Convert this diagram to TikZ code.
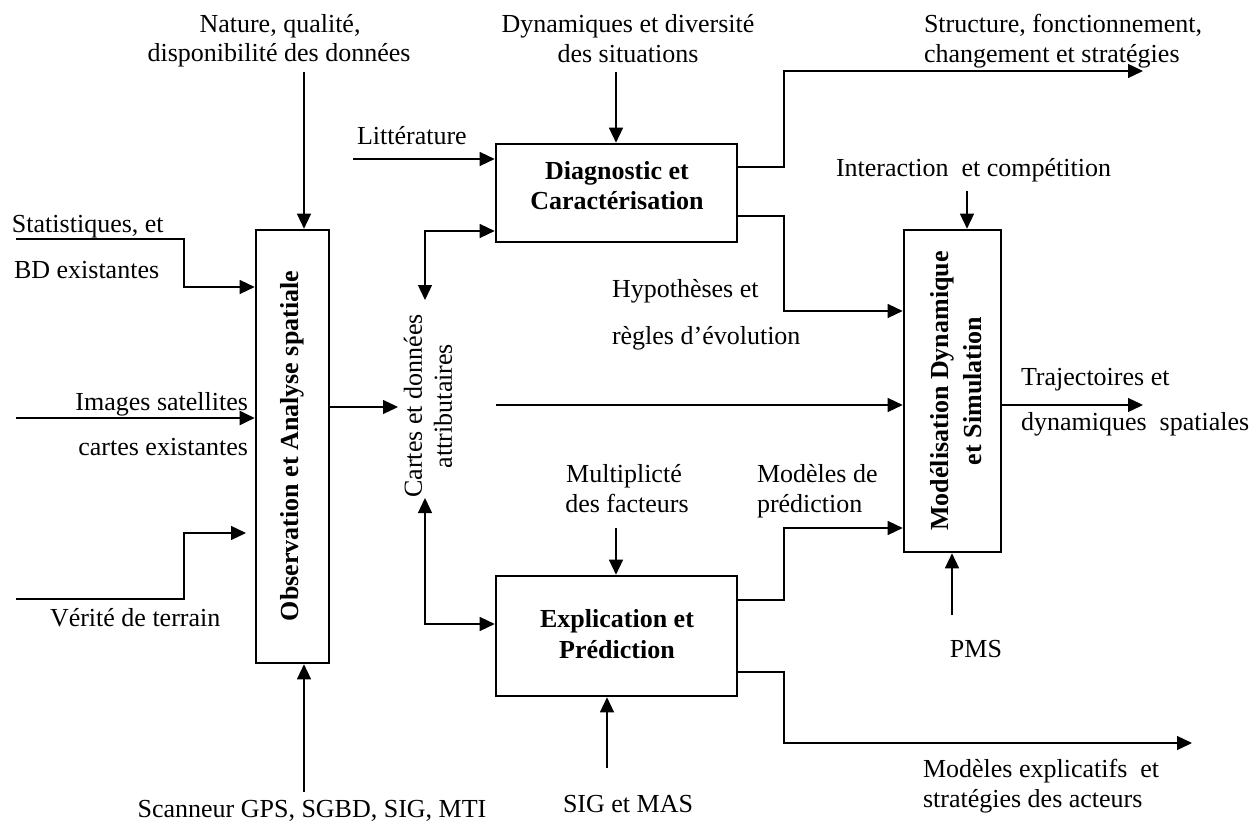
\documentclass[tikz,border=0pt]{standalone}
\usepackage{fontspec}
\setmainfont{Liberation Serif}
\usetikzlibrary{arrows.meta}
\begin{document}
\begin{tikzpicture}[x=1pt,y=-1pt,
  every node/.style={inner sep=0pt, outer sep=0pt},
  boxnode/.style={draw, line width=2.6pt, inner sep=0pt, outer sep=1.3pt},
  lbl/.style={anchor=base, font=\fontsize{26}{30}\selectfont},
  lbll/.style={anchor=base west, font=\fontsize{26}{30}\selectfont},
  lblr/.style={anchor=base east, font=\fontsize{26}{30}\selectfont},
  btxt/.style={anchor=base, font=\fontsize{26}{30}\selectfont\bfseries},
  conn/.style={line width=1.3pt, -{Triangle[length=15pt,width=14pt]}},
  connthick/.style={conn, line width=2pt},
  bothconn/.style={line width=1.3pt, {Triangle[length=15pt,width=14pt]}-{Triangle[length=15pt,width=14pt]}}]
\useasboundingbox (0,0) rectangle (1256,829);

% boxes
\node[boxnode, minimum width=73pt, minimum height=433pt] (obs) at (292.5,446.5) {};
\node[rotate=90, font=\fontsize{26}{30}\selectfont\bfseries] (obstxt) at (292.5,446) {Observation et Analyse spatiale};
\node[boxnode, minimum width=241pt, minimum height=98pt] (diag) at (616.5,193) {};
\node[btxt] (diag1) at (617,180) {Diagnostic et};
\node[btxt] (diag2) at (617,210) {Caractérisation};
\node[boxnode, minimum width=241pt, minimum height=120pt] (expl) at (616.5,636) {};
\node[btxt] (expl1) at (617,627) {Explication et};
\node[btxt] (expl2) at (617,658) {Prédiction};
\node[boxnode, minimum width=97pt, minimum height=322pt] (model) at (952.5,391) {};
\node[rotate=90, align=center, font=\fontsize{26}{33}\selectfont\bfseries] (modeltxt) at (956,391) {Modélisation Dynamique\\et Simulation};

% labels
\node[lbl] (nat1) at (280,33) {Nature, qualité,};
\node[lbl] (nat2) at (279,62) {disponibilité des données};
\node[lbl] (dyn1) at (628,33) {Dynamiques et diversité};
\node[lbl] (dyn2) at (628,63) {des situations};
\node[lbll] (str1) at (924,33) {Structure, fonctionnement,};
\node[lbll] (str2) at (924,63) {changement et stratégies};
\node[lbll] (lit) at (357,145) {Littérature};
\node[lbll] (stat1) at (12,233) {Statistiques, et};
\node[lbll] (stat2) at (14,278) {BD existantes};
\node[lblr] (img1) at (248,410) {Images satellites};
\node[lblr] (img2) at (248,455) {cartes existantes};
\node[lbll] (ver) at (50,626) {Vérité de terrain};
\node[lbl] (scan) at (312,817) {Scanneur GPS, SGBD, SIG, MTI};
\node[lbll] (inter) at (836,177) {Interaction\ \ et compétition};
\node[lbll] (hyp1) at (612,298) {Hypothèses et};
\node[lbll] (hyp2) at (612,344) {règles d’évolution};
\node[lbll] (traj1) at (1021,385) {Trajectoires et};
\node[lbll] (traj2) at (1021,430) {dynamiques\ \ spatiales};
\node[lbl] (mult1) at (624,482) {Multiplicté};
\node[lbl] (mult2) at (627,512) {des facteurs};
\node[lbll] (mp1) at (757,482) {Modèles de};
\node[lbll] (mp2) at (757,512) {prédiction};
\node[lbl] (sig) at (628,812) {SIG et MAS};
\node[lbl] (pms) at (976,657) {PMS};
\node[lbll] (mex1) at (923,777) {Modèles explicatifs\ \ et};
\node[lbll] (mex2) at (923,807) {stratégies des acteurs};
\node[rotate=90, align=center, font=\fontsize{26}{30}\selectfont] (cartes) at (428,406) {Cartes et données\\attributaires};

% free ends
\coordinate (natS) at (304,72);
\coordinate (scanS) at (304,792);
\coordinate (statS) at (16,239);
\coordinate (imgS) at (16,418);
\coordinate (verS) at (16,599);
\coordinate (verE) at (246,533);
\coordinate (obsE) at (398,407);
\coordinate (carT) at (425,300);
\coordinate (carB) at (425,498);
\coordinate (litS) at (353,159);
\coordinate (dynS) at (616,72);
\coordinate (strE) at (1143,71);
\coordinate (carH) at (496,405);
\coordinate (trajE) at (1143,405);
\coordinate (interS) at (967,191);
\coordinate (pmsS) at (952,615);
\coordinate (multS) at (616,528);
\coordinate (sigS) at (607,768);
\coordinate (mexE) at (1192,743);

% connectors
\draw[conn] (natS) -- (obs.north -| natS);
\draw[conn] (scanS) -- (obs.south -| scanS);
\draw[conn] (statS) -| (184,287) -- (obs.west |- 184,287);
\draw[connthick] (imgS) -- (obs.west |- imgS);
\draw[conn] (verS) -| (184,533) -- (verE);
\draw[conn] (obs.east |- obsE) -- (obsE);
\draw[bothconn] (carT) |- (diag.west |- 0,231);
\draw[bothconn] (carB) |- (expl.west |- 0,624);
\draw[conn] (litS) -- (diag.west |- litS);
\draw[conn] (dynS) -- (diag.north -| dynS);
\draw[conn] (diag.east |- 0,167) -| (784,71) -- (strE);
\draw[conn] (diag.east |- 0,216) -| (784,311) -- (model.west |- 0,311);
\draw[conn] (carH) -- (model.west |- carH);
\draw[conn] (model.east |- trajE) -- (trajE);
\draw[conn] (interS) -- (model.north -| interS);
\draw[conn] (pmsS) -- (model.south -| pmsS);
\draw[conn] (expl.east |- 0,600) -| (784,528) -- (model.west |- 0,528);
\draw[conn] (multS) -- (expl.north -| multS);
\draw[conn] (sigS) -- (expl.south -| sigS);
\draw[conn] (expl.east |- 0,672) -| (784,743) -- (mexE);
\end{tikzpicture}
\end{document}
